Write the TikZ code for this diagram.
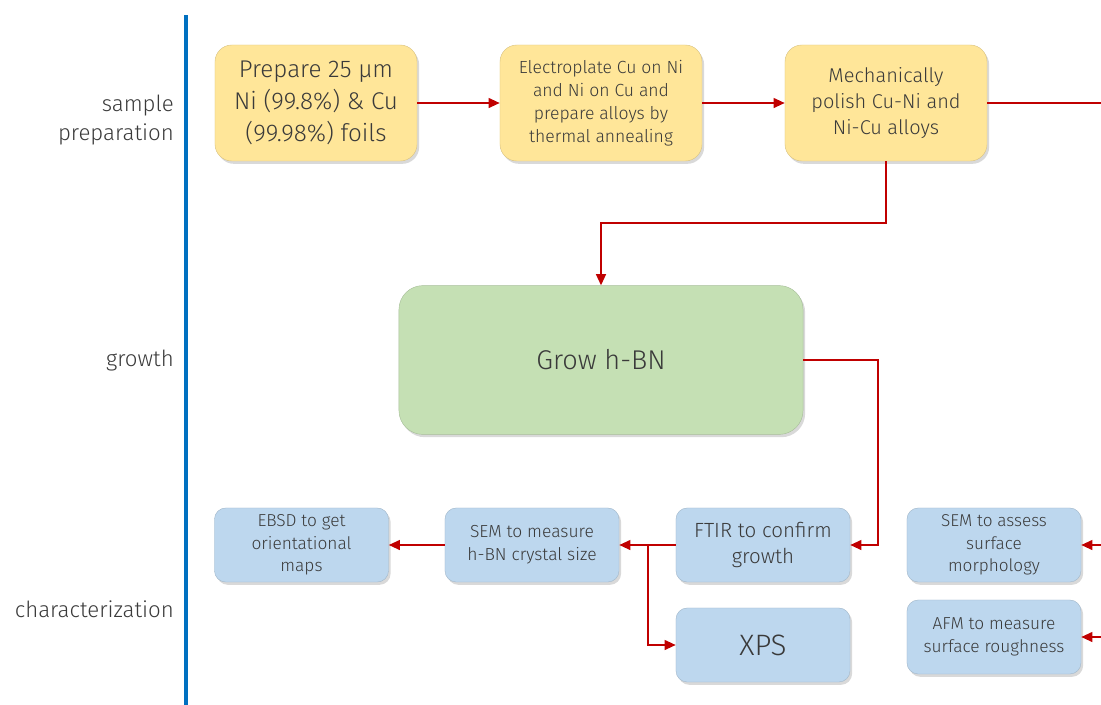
\documentclass[tikz,border=0pt]{standalone}
\usepackage{fontspec}
\setmainfont{Fira Sans}[UprightFont={* Light}]
\usetikzlibrary{arrows.meta,shadows}
\definecolor{prepyellow}{HTML}{FFE699}
\definecolor{growgreen}{HTML}{C5E0B4}
\definecolor{charblue}{HTML}{BDD7EE}
\definecolor{flowred}{HTML}{C00000}
\definecolor{barblue}{HTML}{0070C0}
\definecolor{textgray}{HTML}{3A3A3A}
\newcommand{\fs}[1]{\fontsize{#1}{1.31\dimexpr#1pt\relax}\selectfont}
\begin{document}
\begin{tikzpicture}[x=0.025cm, y=-0.025cm,
    box/.style={rounded corners=12pt, text=textgray, align=center, inner sep=0pt,
        drop shadow={shadow xshift=1.5pt, shadow yshift=-2pt, opacity=0.3}},
    prepbox/.style={box, fill=prepyellow, draw=prepyellow!85!black, line width=0.3pt,
        minimum width=5.05cm, minimum height=2.9cm},
    growbox/.style={box, fill=growgreen, draw=growgreen!85!black, line width=0.3pt,
        rounded corners=17pt, minimum width=10.1cm, minimum height=3.72cm},
    charbox/.style={box, fill=charblue, draw=charblue!85!black, line width=0.3pt,
        rounded corners=8pt, minimum width=4.35cm, minimum height=1.85cm},
    stage/.style={text=textgray, align=right, anchor=east, inner sep=0pt, font=\fs{15.8}},
    flow/.style={draw=flowred, line width=1.4pt, -{Triangle[length=8pt,width=7pt]}},
    flowline/.style={draw=flowred, line width=1.4pt}]
    \useasboundingbox (0,0) rectangle (1101,705);
    % Stage bar
    \draw[barblue, line width=3pt] (186,15) -- (186,705);
    \node[stage] (lblprep) at (174,120) {sample\\preparation};
    \node[stage] (lblgrow) at (174,361) {growth};
    \node[stage] (lblchar) at (174,609) {characterization};
    % Sample preparation
    \node[prepbox, font=\fs{17.2}] (prep1) at (316,103) {Prepare 25 µm\\Ni (99.8\%) \& Cu\\(99.98\%) foils};
    \node[prepbox, font=\fs{12.5}] (prep2) at (601,103) {Electroplate Cu on Ni\\and Ni on Cu and\\prepare alloys by\\thermal annealing};
    \node[prepbox, font=\fs{14.2}] (prep3) at (886,103) {Mechanically\\polish Cu-Ni and\\Ni-Cu alloys};
    % Growth
    \node[growbox, font=\fs{19.3}] (grow) at (601,360) {Grow h-BN};
    % Characterization
    \node[charbox, font=\fs{12.3}] (ebsd) at (301.5,545) {EBSD to get\\orientational\\maps};
    \node[charbox, font=\fs{12.4}] (semsize) at (532,545) {SEM to measure\\h-BN crystal size};
    \node[charbox, font=\fs{14.6}] (ftir) at (763,545) {FTIR to confirm\\growth};
    \node[charbox, font=\fs{21}] (xps) at (763,645) {XPS};
    \node[charbox, font=\fs{12.2}] (semsurf) at (994,545) {SEM to assess\\surface\\morphology};
    \node[charbox, font=\fs{12.3}] (afm) at (994,637) {AFM to measure\\surface roughness};
    % Coordinates
    \coordinate (outprep) at (1101,103);
    \coordinate (insurf) at (1101,545);
    \coordinate (inafm) at (1101,637);
    \coordinate (turnA) at (886,223);
    \coordinate (turnB) at (601,223);
    \coordinate (turnC) at (878,360);
    \coordinate (turnD) at (878,545);
    \coordinate (split) at (648,545);
    \coordinate (turnE) at (648,645);
    % Connectors
    \draw[flow] (prep1) -- (prep2);
    \draw[flow] (prep2) -- (prep3);
    \draw[flowline] (prep3) -- (outprep);
    \draw[flow] (prep3.south) -- (turnA) -- (turnB) -- (grow.north);
    \draw[flow] (grow.east |- turnC) -- (turnC) -- (turnD) -- (ftir.east);
    \draw[flow] (ftir.west) -- (semsize.east);
    \draw[flow] (split) -- (turnE) -- (xps.west);
    \draw[flow] (semsize.west) -- (ebsd.east);
    \draw[flow] (insurf) -- (semsurf.east);
    \draw[flow] (inafm) -- (afm.east);
\end{tikzpicture}
\end{document}
